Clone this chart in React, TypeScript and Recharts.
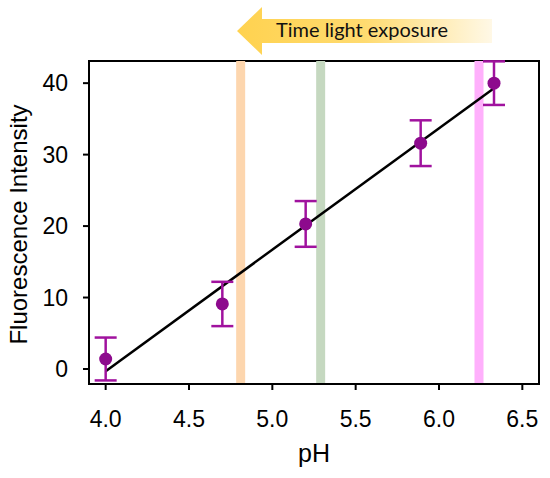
import React from "react";
import {
  ComposedChart,
  XAxis,
  YAxis,
  Line,
  Scatter,
  ErrorBar,
  ReferenceLine,
  ReferenceArea,
  Label,
} from "recharts";

// measured points (pH vs fluorescence), with error bars
const phValues = [4.0, 4.7, 5.2, 5.89, 6.33];
const intensity = [1.4, 9.1, 20.3, 31.6, 40.0];
const errors = [3.0, 3.1, 3.2, 3.2, 3.05];

// linear fit end points
const fitPh = [4.0, 6.33];
const fitIntensity = [-0.3, 39.3];

// coloured markers for time of light exposure
const bandPh = [4.81, 5.29, 6.24];
const bandColors = ["#FDD6AE", "#C5D8C0", "#FFB0FC"];

const xTicks = [4.0, 4.5, 5.0, 5.5, 6.0, 6.5];
const yTicks = [0, 10, 20, 30, 40];

const points = phValues.map((x, i) => ({ x, y: intensity[i], err: errors[i] }));
const fit = fitPh.map((x, i) => ({ x, y: fitIntensity[i] }));

const font = "Liberation Sans, Arial, sans-serif";
const purple = "#8D0A8D";

const Dot = (p: any) => <circle cx={p.cx} cy={p.cy} r={6.5} fill={purple} />;

function Arrow() {
  return (
    <svg
      width={550}
      height={60}
      style={{ position: "absolute", left: 0, top: 0 }}
    >
      <defs>
        <linearGradient id="fade" x1="237" x2="492" y1="0" y2="0" gradientUnits="userSpaceOnUse">
          <stop offset="0" stopColor="#FFD24F" />
          <stop offset="0.5" stopColor="#FFDB70" />
          <stop offset="1" stopColor="#FFF8E6" />
        </linearGradient>
      </defs>
      <polygon
        points="237,31 262,7 262,19 492,19 492,43 262,43 262,55"
        fill="url(#fade)"
      />
      <text
        x={276}
        y={37}
        fontFamily="Lato, sans-serif"
        fontSize={19}
        fill="#111"
        textLength={172}
        lengthAdjust="spacingAndGlyphs"
      >
        Time light exposure
      </text>
    </svg>
  );
}

export default function App() {
  return (
    <div
      style={{
        position: "absolute",
        left: 0,
        top: 0,
        width: 550,
        height: 478,
        background: "#fff",
        fontFamily: font,
      }}
    >
      <ComposedChart
        width={550}
        height={478}
        margin={{ top: 61, right: 11, bottom: 0, left: 0 }}
        style={{ fontFamily: font }}
      >
        <XAxis
          dataKey="x"
          type="number"
          domain={[3.9, 6.6]}
          ticks={xTicks}
          allowDataOverflow
          tickFormatter={(v) => v.toFixed(1)}
          height={94}
          stroke="#000"
          strokeWidth={2}
          tickSize={6}
          tickMargin={21}
          fontSize={23}
          tick={{ fill: "#000" }}
        >
          <Label value="pH" position="center" dy={22} fontSize={25} fill="#000" />
        </XAxis>
        <YAxis
          type="number"
          domain={[-2.1, 43.1]}
          ticks={yTicks}
          allowDataOverflow
          width={89}
          stroke="#000"
          strokeWidth={2}
          tickSize={6}
          tickMargin={15}
          fontSize={23}
          tick={{ fill: "#000" }}
        >
          <Label
            value="Fluorescence Intensity"
            position="center"
            angle={-90}
            dx={-26}
            dy={2}
            fontSize={24}
            fill="#000"
          />
        </YAxis>
        {bandPh.map((x, i) => (
          <ReferenceLine key={x} x={x} stroke={bandColors[i]} strokeWidth={9} />
        ))}
        <ReferenceArea
          x1={3.9}
          x2={6.6}
          y1={-2.1}
          y2={43.1}
          fill="none"
          stroke="#000"
          strokeWidth={2}
          fillOpacity={0}
        />
        <Line
          data={fit}
          dataKey="y"
          stroke="#000"
          strokeWidth={2.5}
          dot={false}
          activeDot={false}
          isAnimationActive={false}
        />
        <Scatter data={points} dataKey="y" shape={Dot} isAnimationActive={false}>
          <ErrorBar
            dataKey="err"
            direction="y"
            width={11}
            stroke="#A0129E"
            strokeWidth={2.5}
            isAnimationActive={false}
          />
        </Scatter>
      </ComposedChart>
      <Arrow />
    </div>
  );
}
